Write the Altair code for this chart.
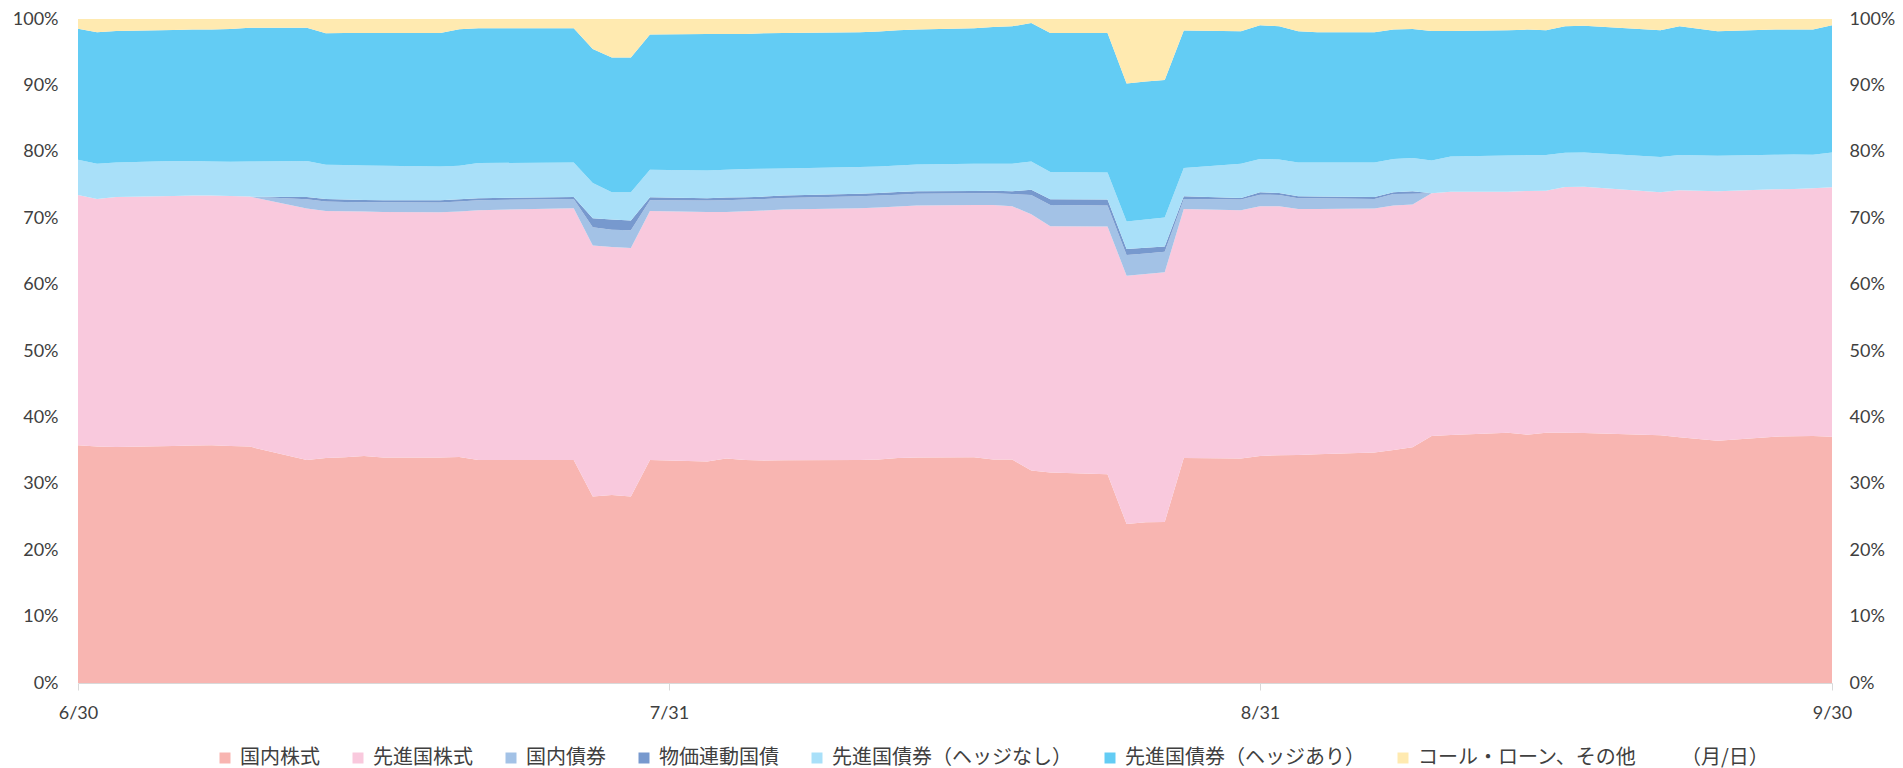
import altair as alt
import pandas as pd

dates = [
    "2021-06-30",
    "2021-07-01", "2021-07-02", "2021-07-05", "2021-07-06", "2021-07-07", "2021-07-08", "2021-07-09",
    "2021-07-12", "2021-07-13", "2021-07-14", "2021-07-15", "2021-07-16", "2021-07-19", "2021-07-20", "2021-07-21",
    "2021-07-26", "2021-07-27", "2021-07-28", "2021-07-29", "2021-07-30",
    "2021-08-02", "2021-08-03", "2021-08-04", "2021-08-05", "2021-08-06",
    "2021-08-10", "2021-08-11", "2021-08-12", "2021-08-13",
    "2021-08-16", "2021-08-17", "2021-08-18", "2021-08-19", "2021-08-20",
    "2021-08-23", "2021-08-24", "2021-08-25", "2021-08-26", "2021-08-27",
    "2021-08-30", "2021-08-31",
    "2021-09-01", "2021-09-02", "2021-09-03",
    "2021-09-06", "2021-09-07", "2021-09-08", "2021-09-09", "2021-09-10",
    "2021-09-13", "2021-09-14", "2021-09-15", "2021-09-16", "2021-09-17",
    "2021-09-21", "2021-09-22", "2021-09-24",
    "2021-09-27", "2021-09-28", "2021-09-29", "2021-09-30",
]

series_names = [
    "国内株式", "先進国株式", "国内債券", "物価連動国債",
    "先進国債券（ヘッジなし）", "先進国債券（ヘッジあり）", "コール・ローン、その他",
]
series_colors = ["#F8B5B1", "#F9C9DD", "#A3C2E6", "#7799CE", "#A9E0F9", "#63CCF4", "#FFEAB0"]

jp_equity = [
    35.8, 35.6, 35.55, 35.7, 35.75, 35.8, 35.7, 35.6,
    33.6, 33.9, 34.0, 34.2, 33.95, 33.95, 34.05, 33.6,
    33.6, 28.1, 28.3, 28.1, 33.6,
    33.35, 33.8, 33.6, 33.5, 33.55,
    33.6, 33.65, 33.9, 33.95,
    34.0, 33.65, 33.65, 32.0, 31.7,
    31.45, 23.95, 24.2, 24.25, 33.9,
    33.8, 34.2,
    34.3, 34.35, 34.45,
    34.7, 35.1, 35.5, 37.2, 37.35,
    37.7, 37.4, 37.7, 37.7, 37.65,
    37.3, 37.0, 36.5,
    37.1, 37.15, 37.2, 37.1,
]
dev_equity = [
    37.7, 37.3, 37.65, 37.65, 37.65, 37.6, 37.65, 37.65,
    37.85, 37.2, 37.05, 36.8, 37.0, 36.95, 36.95, 37.6,
    37.9, 37.8, 37.35, 37.4, 37.5,
    37.6, 37.15, 37.45, 37.65, 37.75,
    37.9, 37.95, 37.85, 37.95,
    38.0, 38.35, 38.15, 38.6, 37.1,
    37.3, 37.4, 37.4, 37.6, 37.5,
    37.4, 37.6,
    37.5, 37.05, 36.95,
    36.75, 36.8, 36.55, 36.55, 36.65,
    36.3, 36.7, 36.45, 37.0, 37.1,
    36.6, 37.2, 37.55,
    37.25, 37.25, 37.3, 37.55,
]
jp_bond = [
    0, 0, 0, 0, 0, 0, 0, 0,
    1.4, 1.4, 1.4, 1.4, 1.45, 1.45, 1.5, 1.5,
    1.4, 2.75, 2.6, 2.7, 1.6,
    1.7, 1.75, 1.75, 1.75, 1.75,
    1.8, 1.8, 1.8, 1.8,
    1.75, 1.75, 1.85, 2.9, 3.2,
    3.15, 3.1, 3.1, 3.1, 1.5,
    1.6, 1.75,
    1.7, 1.6, 1.6,
    1.45, 1.75, 1.65, 0, 0,
    0, 0, 0, 0, 0,
    0, 0, 0,
    0, 0, 0, 0,
]
linker = [
    0, 0, 0, 0, 0, 0, 0, 0,
    0.35, 0.4, 0.35, 0.35, 0.3, 0.35, 0.35, 0.3,
    0.3, 1.35, 1.55, 1.45, 0.45,
    0.35, 0.4, 0.35, 0.35, 0.35,
    0.4, 0.4, 0.4, 0.35,
    0.35, 0.4, 0.4, 0.8, 0.85,
    0.9, 0.9, 0.85, 0.8, 0.4,
    0.25, 0.35,
    0.3, 0.3, 0.25,
    0.3, 0.25, 0.35, 0, 0,
    0, 0, 0, 0, 0,
    0, 0, 0,
    0, 0, 0, 0,
]
dev_bond_unhedged = [
    5.3, 5.3, 5.2, 5.25, 5.2, 5.15, 5.15, 5.3,
    5.4, 5.15, 5.2, 5.2, 5.2, 5.1, 5.05, 5.3,
    5.2, 5.3, 4.1, 4.25, 4.15,
    4.2, 4.2, 4.25, 4.2, 4.1,
    4.0, 4.0, 4.0, 4.05,
    4.1, 4.05, 4.15, 4.25, 4.1,
    4.1, 4.15, 4.25, 4.35, 4.25,
    5.15, 5.0,
    5.05, 5.1, 5.15,
    5.2, 5.0, 5.0, 4.95, 5.3,
    5.45, 5.4, 5.35, 5.15, 5.15,
    5.3, 5.3, 5.35,
    5.2, 5.2, 5.05, 5.25,
]
dev_bond_hedged = [
    19.75, 19.8, 19.8, 19.75, 19.8, 19.85, 20.0, 20.15,
    20.1, 19.8, 19.9, 19.95, 20.0, 20.1, 20.55, 20.3,
    20.2, 20.2, 20.3, 20.3, 20.35,
    20.55, 20.45, 20.35, 20.4, 20.4,
    20.3, 20.3, 20.35, 20.3,
    20.4, 20.6, 20.7, 20.85, 20.95,
    21.0, 20.8, 20.8, 20.7, 20.7,
    19.95, 20.15,
    20.05, 19.75, 19.6,
    19.6, 19.5, 19.45, 19.5, 18.9,
    18.85, 18.9, 18.8, 19.05, 19.1,
    19.1, 19.4, 18.75,
    18.85, 18.8, 18.85, 19.15,
]
cash_other = [
    1.45, 2.0, 1.8, 1.65, 1.6, 1.6, 1.5, 1.3,
    1.3, 2.15, 2.1, 2.1, 2.1, 2.1, 1.55, 1.4,
    1.4, 4.5, 5.8, 5.8, 2.35,
    2.25, 2.25, 2.25, 2.15, 2.1,
    2.0, 1.9, 1.7, 1.6,
    1.4, 1.2, 1.1, 0.6, 2.1,
    2.1, 9.7, 9.4, 9.2, 1.75,
    1.85, 0.95,
    1.1, 1.85, 2.0,
    2.0, 1.6, 1.5, 1.8, 1.8,
    1.7, 1.6, 1.7, 1.1, 1.0,
    1.7, 1.1, 1.85,
    1.6, 1.6, 1.6, 0.95,
]

tick_dates = [(2021, 6, 30), (2021, 7, 31), (2021, 8, 31), (2021, 9, 30)]
y_ticks = [0, 10, 20, 30, 40, 50, 60, 70, 80, 90, 100]

all_series = [jp_equity, dev_equity, jp_bond, linker, dev_bond_unhedged, dev_bond_hedged, cash_other]
rows = []
for k, (name, vals) in enumerate(zip(series_names, all_series)):
    for d, v in zip(dates, vals):
        rows.append({"date": d + "T00:00:00", "series": name, "value": v, "order": k})
df = pd.DataFrame(rows)

LABEL_FONT = "Lato"
JP_FONT = "Noto Sans CJK JP"
TEXT_COLOR = "#404040"

x_dom = [alt.DateTime(year=y, month=m, date=d) for (y, m, d) in (tick_dates[0], tick_dates[-1])]
x_vals = [alt.DateTime(year=y, month=m, date=d) for (y, m, d) in tick_dates]

area = alt.Chart(df).mark_area(interpolate="linear").encode(
    x=alt.X(
        "date:T",
        scale=alt.Scale(domain=x_dom),
        axis=alt.Axis(
            values=x_vals, format="%-m/%-d", formatType="time", title=None,
            grid=False, domainColor="#D9D9D9", tickColor="#D9D9D9", tickSize=7,
            labelPadding=14, labelFont=LABEL_FONT, labelFontSize=18,
            labelColor=TEXT_COLOR, labelFlush=False, labelOverlap=False,
        ),
    ),
    y=alt.Y(
        "value:Q", stack="zero",
        scale=alt.Scale(domain=[0, 100], nice=False),
        axis=alt.Axis(
            orient="left", values=y_ticks, labelExpr="datum.value + '%'", title=None,
            grid=False, ticks=False, domain=False, labelPadding=20,
            labelFont=LABEL_FONT, labelFontSize=18, labelColor=TEXT_COLOR,
        ),
    ),
    color=alt.Color(
        "series:N",
        scale=alt.Scale(domain=series_names, range=series_colors),
        legend=alt.Legend(
            orient="none", legendX=137, legendY=729, direction="horizontal",
            title=None, symbolType="square", symbolSize=121, symbolStrokeWidth=0,
            symbolOpacity=1, labelFont=JP_FONT, labelFontSize=20, labelColor=TEXT_COLOR,
            columnPadding=28, labelOffset=5, labelLimit=400, padding=0,
        ),
    ),
    order=alt.Order("order:Q", sort="ascending"),
)

right_axis = alt.Chart(pd.DataFrame({"v": [0]})).mark_point(opacity=0, size=1).encode(
    y=alt.Y(
        "v:Q",
        scale=alt.Scale(domain=[0, 100], nice=False),
        axis=alt.Axis(
            orient="right", values=y_ticks, labelExpr="datum.value + '%'", title=None,
            grid=False, ticks=False, domain=False, labelPadding=17,
            labelFont=LABEL_FONT, labelFontSize=18, labelColor=TEXT_COLOR,
        ),
    ),
)

unit_label = alt.Chart(pd.DataFrame({"label": ["（月/日）"]})).mark_text(
    align="left", baseline="middle", font=JP_FONT, fontSize=20, color=TEXT_COLOR
).encode(text="label:N", x=alt.value(1603), y=alt.value(739))

chart = alt.layer(area, right_axis, unit_label).resolve_scale(y="independent").properties(
    width=1754,
    height=664,
    autosize=alt.AutoSizeParams(type="none"),
    padding={"left": 70, "top": 11, "right": 63, "bottom": 86},
    background="white",
).configure_view(stroke=None)

chart.save("out.html", embed_options={"renderer": "svg", "actions": False})
